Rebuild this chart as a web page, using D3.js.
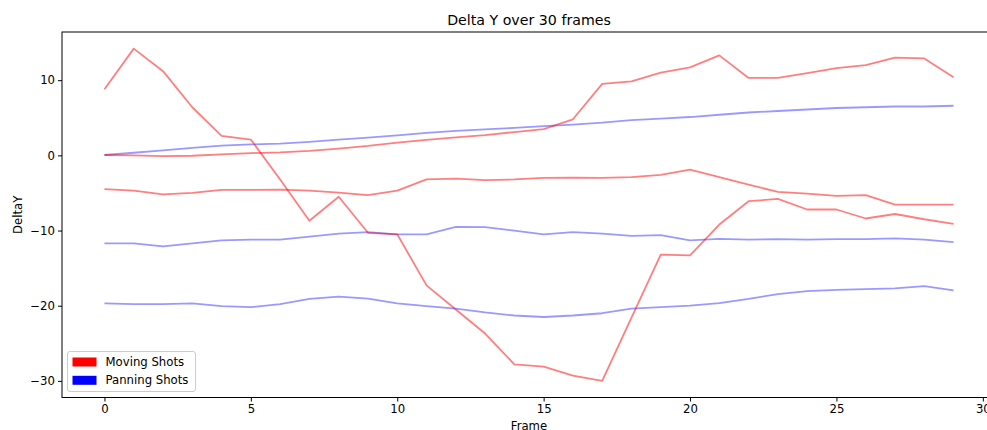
<!DOCTYPE html>
<html>
<head>
<meta charset="utf-8">
<script src="https://cdn.jsdelivr.net/npm/d3@7"></script>
<style>
  html, body { margin: 0; padding: 0; background: #fff; overflow: hidden; }
  svg { display: block; font-family: "DejaVu Sans", sans-serif; }
</style>
</head>
<body>
<svg id="chart" width="987" height="430"></svg>
<script>
const frames = d3.range(0, 30);
const xTicks = [0, 5, 10, 15, 20, 25, 30];
const yTicks = [-30, -20, -10, 0, 10];

const moving1 = [8.8, 14.2, 11.2, 6.4, 2.6, 2.1, -3.2, -8.7, -5.5, -10.3, -10.5, -17.3, -20.5, -23.7, -27.8, -28.1, -29.3, -30.0, -21.6, -13.2, -13.3, -9.2, -6.1, -5.8, -7.2, -7.2, -8.4, -7.8, -8.5, -9.1];
const moving2 = [0.05, 0.0, -0.1, -0.05, 0.13, 0.3, 0.4, 0.6, 0.9, 1.25, 1.7, 2.05, 2.4, 2.7, 3.1, 3.5, 4.8, 9.5, 9.85, 11.0, 11.7, 13.3, 10.3, 10.3, 10.95, 11.6, 12.0, 13.0, 12.9, 10.4];
const moving3 = [-4.5, -4.7, -5.2, -5.0, -4.6, -4.6, -4.55, -4.7, -4.95, -5.3, -4.7, -3.2, -3.1, -3.3, -3.2, -3.0, -2.95, -3.0, -2.9, -2.6, -1.9, -2.9, -3.9, -4.85, -5.1, -5.4, -5.3, -6.55, -6.55, -6.55];

const panning1 = [0.05, 0.35, 0.65, 1.0, 1.3, 1.45, 1.55, 1.8, 2.1, 2.35, 2.65, 3.0, 3.25, 3.45, 3.65, 3.9, 4.1, 4.35, 4.7, 4.9, 5.1, 5.4, 5.7, 5.9, 6.1, 6.3, 6.4, 6.5, 6.5, 6.6];
const panning2 = [-11.7, -11.7, -12.1, -11.7, -11.3, -11.2, -11.2, -10.8, -10.4, -10.2, -10.5, -10.5, -9.5, -9.55, -10.0, -10.5, -10.2, -10.4, -10.7, -10.6, -11.3, -11.1, -11.2, -11.15, -11.2, -11.15, -11.15, -11.05, -11.2, -11.55];
const panning3 = [-19.7, -19.8, -19.8, -19.7, -20.05, -20.2, -19.8, -19.1, -18.8, -19.05, -19.7, -20.05, -20.4, -20.9, -21.3, -21.5, -21.3, -21.0, -20.4, -20.2, -20.0, -19.65, -19.1, -18.45, -18.05, -17.9, -17.8, -17.7, -17.4, -17.95];

const movingSeries = [moving1, moving2, moving3];
const panningSeries = [panning1, panning2, panning3];

const legendItems = [
  { label: "Moving Shots", color: "#ff0000" },
  { label: "Panning Shots", color: "#0000ff" }
];

(function () {
const svg = d3.select("#chart");
const pL = 62, pR = 996, pT = 32, pB = 397.5;

// matplotlib-style 5% margins
const xExt = d3.extent(frames);
const xPad = (xExt[1] - xExt[0]) * 0.05;
const allY = movingSeries.concat(panningSeries).flat();
const yExt = d3.extent(allY);
const yPad = (yExt[1] - yExt[0]) * 0.05;

const x = d3.scaleLinear().domain([xExt[0] - xPad, xExt[1] + xPad]).range([pL, pR]);
const y = d3.scaleLinear().domain([yExt[0] - yPad, yExt[1] + yPad]).range([pB, pT]);

const line = d3.line().x((d, i) => x(frames[i])).y(d => y(d));

const g = svg.append("g");

g.selectAll("path.pan").data(panningSeries).enter().append("path")
  .attr("class", "pan")
  .attr("d", line)
  .attr("fill", "none")
  .attr("stroke", "#0000ff")
  .attr("stroke-opacity", 0.4)
  .attr("stroke-width", 1.8)
  .attr("stroke-linejoin", "round");

g.selectAll("path.mov").data(movingSeries).enter().append("path")
  .attr("class", "mov")
  .attr("d", line)
  .attr("fill", "none")
  .attr("stroke", "#ff0000")
  .attr("stroke-opacity", 0.5)
  .attr("stroke-width", 1.8)
  .attr("stroke-linejoin", "round");

svg.append("rect")
  .attr("x", pL).attr("y", pT)
  .attr("width", pR - pL).attr("height", pB - pT)
  .attr("fill", "none").attr("stroke", "#000").attr("stroke-width", 1);

const xAxis = d3.axisBottom(x).tickValues(xTicks).tickSize(4).tickPadding(3).tickFormat(d3.format("d"));
const yAxis = d3.axisLeft(y).tickValues(yTicks).tickSize(4).tickPadding(3).tickFormat(d => d < 0 ? "\u2212" + Math.abs(d) : String(d));

const gx = svg.append("g").attr("transform", `translate(0,${pB})`).call(xAxis);
const gy = svg.append("g").attr("transform", `translate(${pL},0)`).call(yAxis);
[gx, gy].forEach(a => {
  a.select(".domain").remove();
  a.selectAll("text").attr("font-size", 11.7).attr("fill", "#000").attr("font-family", "DejaVu Sans, sans-serif");
  a.selectAll("line").attr("stroke", "#000");
});

svg.append("text").attr("x", (pL + pR) / 2).attr("y", 25)
  .attr("text-anchor", "middle").attr("font-size", 14.2).attr("fill", "#000")
  .text("Delta Y over 30 frames");

svg.append("text").attr("x", (pL + pR) / 2).attr("y", 429.5)
  .attr("text-anchor", "middle").attr("font-size", 11.7).attr("fill", "#000")
  .text("Frame");

svg.append("text")
  .attr("transform", `translate(22,${(pT + pB) / 2}) rotate(-90)`)
  .attr("text-anchor", "middle").attr("font-size", 11.7).attr("fill", "#000")
  .text("DeltaY");

const lg = svg.append("g").attr("transform", "translate(67.5,351.5)");
lg.append("rect").attr("width", 128).attr("height", 40).attr("rx", 2.5)
  .attr("fill", "#fff").attr("fill-opacity", 0.8)
  .attr("stroke", "#ccc").attr("stroke-width", 1);
legendItems.forEach((it, i) => {
  lg.append("rect").attr("x", 5).attr("y", 6 + i * 18.3).attr("width", 24).attr("height", 9)
    .attr("fill", it.color);
  lg.append("text").attr("x", 38).attr("y", 14.5 + i * 18.3)
    .attr("font-size", 11.7).attr("fill", "#000").text(it.label);
});
})();
</script>
</body>
</html>
